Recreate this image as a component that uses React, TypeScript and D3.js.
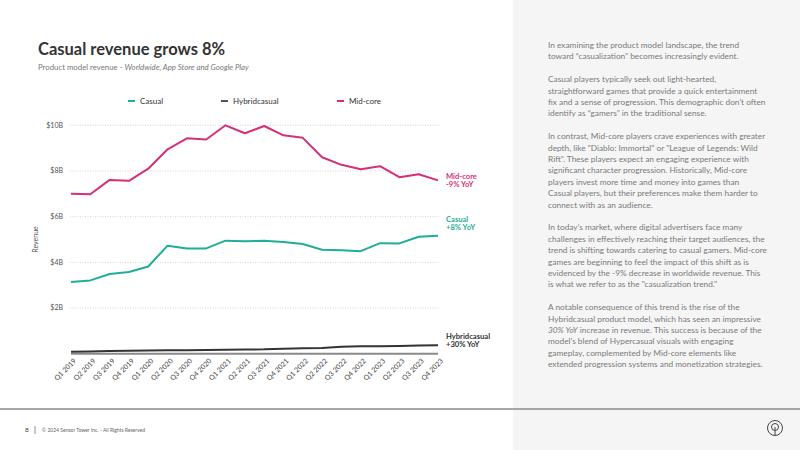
import React from "react";
import * as d3 from "d3";

// quarterly revenue, billions USD
const quarters = [
  "Q1 2019", "Q2 2019", "Q3 2019", "Q4 2019",
  "Q1 2020", "Q2 2020", "Q3 2020", "Q4 2020",
  "Q1 2021", "Q2 2021", "Q3 2021", "Q4 2021",
  "Q1 2022", "Q2 2022", "Q3 2022", "Q4 2022",
  "Q1 2023", "Q2 2023", "Q3 2023", "Q4 2023",
];
const casual = [3.14, 3.21, 3.49, 3.58, 3.82, 4.73, 4.61, 4.61, 4.95, 4.92, 4.95, 4.89, 4.8, 4.55, 4.53, 4.49, 4.84, 4.83, 5.12, 5.16];
const hybridcasual = [0.08, 0.1, 0.12, 0.13, 0.14, 0.15, 0.15, 0.16, 0.17, 0.18, 0.19, 0.22, 0.24, 0.25, 0.3, 0.33, 0.33, 0.34, 0.36, 0.37];
const midcore = [7.0, 6.98, 7.61, 7.57, 8.1, 8.95, 9.43, 9.38, 10.0, 9.65, 9.97, 9.56, 9.45, 8.6, 8.27, 8.08, 8.21, 7.73, 7.86, 7.59];
const yTicks = [2, 4, 6, 8, 10];

const seriesNames = ["Casual", "Hybridcasual", "Mid-core"];
const seriesColors = ["#1fae98", "#333333", "#d4307a"];
const yoyLabels = ["+8% YoY", "+30% YoY", "-9% YoY"];

const paragraphs: { text: string; italic?: string }[][] = [
  [
    { text: "In examining the product model landscape, the trend" },
    { text: "toward \u201ccasualization\u201d becomes increasingly evident." },
  ],
  [
    { text: "Casual players typically seek out light-hearted," },
    { text: "straightforward games that provide a quick entertainment" },
    { text: "fix and a sense of progression. This demographic don't often" },
    { text: "identify as \u201cgamers\u201d in the traditional sense." },
  ],
  [
    { text: "In contrast, Mid-core players crave experiences with greater" },
    { text: "depth, like \"Diablo: Immortal\" or \"League of Legends: Wild" },
    { text: "Rift\". These players expect an engaging experience with" },
    { text: "significant character progression. Historically, Mid-core" },
    { text: "players invest more time and money into games than" },
    { text: "Casual players, but their preferences make them harder to" },
    { text: "connect with as an audience." },
  ],
  [
    { text: "In today\u2019s market, where digital advertisers face many" },
    { text: "challenges in effectively reaching their target audiences, the" },
    { text: "trend is shifting towards catering to casual gamers. Mid-core" },
    { text: "games are beginning to feel the impact of this shift as is" },
    { text: "evidenced by the -9% decrease in worldwide revenue. This" },
    { text: "is what we refer to as the \"casualization trend.\"" },
  ],
  [
    { text: "A notable consequence of this trend is the rise of the" },
    { text: "Hybridcasual product model, which has seen an impressive" },
    { italic: "30% YoY", text: " increase in revenue. This success is because of the" },
    { text: "model's blend of Hypercasual visuals with engaging" },
    { text: "gameplay, complemented by Mid-core elements like" },
    { text: "extended progression systems and monetization strategies." },
  ],
];

const W = 800;
const H = 450;
const font = "Lato, 'Open Sans', sans-serif";

export default function App() {
  const x = d3.scalePoint<string>().domain(quarters).range([71, 438]);
  const y = d3.scaleLinear().domain([0, 10]).range([353.7, 125.3]);

  const line = d3
    .line<number>()
    .x((_, i) => x(quarters[i]) as number)
    .y((d) => y(d))
    .curve(d3.curveLinear);

  const allSeries = [casual, hybridcasual, midcore];
  const legendX = [128, 221, 337];
  // end label tops, per series
  const endLabelY = [219, 336, 176];

  let lineY = 45;
  const textLines: React.ReactNode[] = [];
  paragraphs.forEach((p, pi) => {
    p.forEach((l, li) => {
      textLines.push(
        <text key={`${pi}-${li}`} x={548} y={lineY} dy="0.35em">
          {l.italic && <tspan fontStyle="italic">{l.italic}</tspan>}
          {l.text}
        </text>
      );
      lineY += 11.4;
    });
    lineY += 11.4;
  });

  return (
    <svg
      width={W}
      height={H}
      style={{ position: "absolute", left: 0, top: 0, display: "block" }}
      fontFamily={font}
    >
      <rect width={W} height={H} fill="#ffffff" />
      <rect x={513} y={0} width={W - 513} height={H} fill="#f5f5f5" />

      {/* title */}
      <text x={38} y={55} fontSize={16.5} fontWeight={700} fill="#333">
        Casual revenue grows 8%
      </text>
      <text x={38} y={70} fontSize={7.8} fill="#777">
        Product model revenue -{" "}
        <tspan fontStyle="italic">Worldwide, App Store and Google Play</tspan>
      </text>

      {/* legend */}
      {seriesNames.map((name, i) => (
        <g key={name}>
          <line
            x1={legendX[i]}
            x2={legendX[i] + 7}
            y1={101}
            y2={101}
            stroke={seriesColors[i] === "#333333" ? "#555" : seriesColors[i]}
            strokeWidth={2}
          />
          <text x={legendX[i] + 12} y={101} dy="0.35em" fontSize={8} fill="#333">
            {name}
          </text>
        </g>
      ))}

      {/* y grid and ticks */}
      {yTicks.map((t) => (
        <g key={t}>
          <line
            x1={70}
            x2={440}
            y1={y(t)}
            y2={y(t)}
            stroke="#c8c8c8"
            strokeWidth={0.8}
            strokeDasharray="1 1.5"
          />
          <text x={63} y={y(t)} dy="0.35em" textAnchor="end" fontSize={7} fill="#555">
            ${t}B
          </text>
        </g>
      ))}
      <text
        transform={`translate(38,${y(5)}) rotate(-90)`}
        textAnchor="middle"
        fontSize={7}
        fill="#555"
      >
        Revenue
      </text>

      {/* baseline */}
      <line x1={71} x2={438} y1={y(0)} y2={y(0)} stroke="#8a8a8a" strokeWidth={2} />

      {/* x labels */}
      {quarters.map((q) => (
        <text
          key={q}
          transform={`translate(${(x(q) as number) + 4},${y(0) + 6}) rotate(-45)`}
          textAnchor="end"
          dy="0.35em"
          fontSize={7}
          fill="#444"
        >
          {q}
        </text>
      ))}

      {/* series */}
      {allSeries.map((s, i) => (
        <path
          key={seriesNames[i]}
          d={line(s) as string}
          fill="none"
          stroke={seriesColors[i]}
          strokeWidth={2}
          strokeLinejoin="round"
        />
      ))}

      {/* end labels */}
      {seriesNames.map((name, i) => (
        <g key={name} fontSize={7.6} fontWeight={700} fill={seriesColors[i]}>
          <text x={446} y={endLabelY[i]} dy="0.35em">
            {name}
          </text>
          <text x={446} y={endLabelY[i] + 8.8} dy="0.35em">
            {yoyLabels[i]}
          </text>
        </g>
      ))}

      {/* commentary */}
      <g fontSize={8.3} fill="#7a7a7a">
        {textLines}
      </g>

      {/* footer */}
      <line x1={0} x2={W} y1={409} y2={409} stroke="#8a8a8a" strokeWidth={1.5} />
      <text x={25} y={430} dy="0.35em" fontSize={6.5} fill="#444">
        8
      </text>
      <line x1={35} x2={35} y1={426} y2={434} stroke="#777" strokeWidth={0.8} />
      <text x={42} y={430} dy="0.35em" fontSize={5} fill="#666">
        © 2024 Sensor Tower Inc. - All Rights Reserved
      </text>
      <g transform="translate(775,428)" fill="none" stroke="#444" strokeWidth={1}>
        <circle r={7.5} />
        <circle r={3.5} cy={-1} />
        <line x1={0} x2={0} y1={-1} y2={7.5} />
      </g>
    </svg>
  );
}
